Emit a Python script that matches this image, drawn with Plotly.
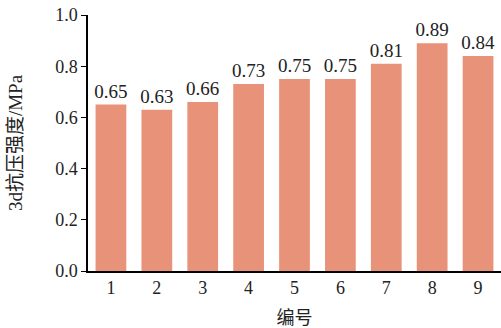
import plotly.graph_objects as go

categories = [1, 2, 3, 4, 5, 6, 7, 8, 9]
values = [0.65, 0.63, 0.66, 0.73, 0.75, 0.75, 0.81, 0.89, 0.84]
y_ticks = [0.0, 0.2, 0.4, 0.6, 0.8, 1.0]

FONT = "Liberation Serif, Noto Sans CJK SC, serif"
TXT = "#222222"

fig = go.Figure()
fig.add_trace(go.Bar(
    x=categories, y=values,
    marker=dict(color="#E9927A", line=dict(width=0)),
    text=[f"{v:.2f}" for v in values],
    textposition="outside",
    constraintext="none",
    textfont=dict(family=FONT, size=19, color=TXT),
    cliponaxis=False,
))
fig.update_layout(
    width=501, height=328,
    margin=dict(l=88, r=0, t=15, b=57),
    plot_bgcolor="white", paper_bgcolor="white",
    bargap=0.33,
    showlegend=False,
    font=dict(family=FONT, size=18, color=TXT),
    xaxis=dict(
        range=[0.5, 9.5], tickvals=categories, ticktext=[str(c) for c in categories],
        showline=True, linecolor="black", linewidth=1.5, ticks="", showgrid=False,
        zeroline=False, tickfont=dict(family=FONT, size=18, color=TXT),
        title=dict(text="编号", font=dict(family=FONT, size=18, color=TXT), standoff=14),
    ),
    yaxis=dict(
        range=[0, 1.0], tickvals=y_ticks, ticktext=[f"{t:.1f}" for t in y_ticks],
        showline=True, linecolor="black", linewidth=1.5, ticks="outside", ticklen=5,
        tickcolor="black", tickwidth=1, showgrid=False, zeroline=False,
        tickfont=dict(family=FONT, size=18, color=TXT),
        title=dict(text="3d抗压强度/MPa", font=dict(family=FONT, size=19, color=TXT), standoff=28),
    ),
)
fig.write_html("out.html")
